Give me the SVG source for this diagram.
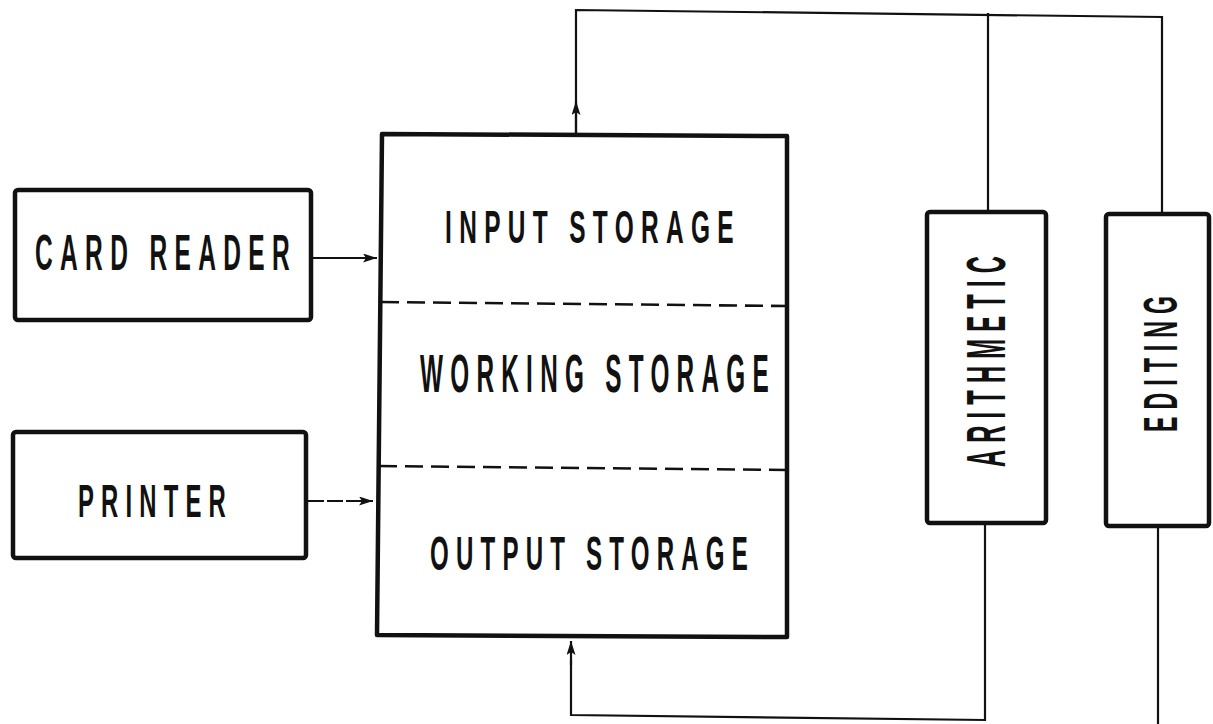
<svg xmlns="http://www.w3.org/2000/svg" width="1213" height="724" viewBox="0 0 1213 724">
<style>
.box{fill:none;stroke:#111;stroke-width:4.5;stroke-linejoin:round}
.line{fill:none;stroke:#111;stroke-width:2.2}
.div{fill:none;stroke:#111;stroke-width:2.6;stroke-dasharray:18 8}
.lbl{font-family:"Liberation Sans",Arial,sans-serif;font-weight:bold;fill:#111;letter-spacing:0.3em}
</style>
<defs>
<marker id="ah" viewBox="0 0 14 9" refX="14" refY="4.5" markerWidth="14" markerHeight="9" markerUnits="userSpaceOnUse" orient="auto">
<path d="M0,0 L14,4.5 L0,9 L3,4.5 Z" fill="#111"/>
</marker>
</defs>
<rect width="1213" height="724" fill="#fff"/>
<g id="connectors">
<line class="line" x1="311" y1="258" x2="377" y2="258" marker-end="url(#ah)"/>
<line class="line" x1="308" y1="501" x2="373" y2="501" stroke-dasharray="16 3" marker-end="url(#ah)"/>
<polyline class="line" points="1162,215 1162,17 576,10 576,135"/>
<line class="line" x1="576" y1="135" x2="576" y2="101" marker-end="url(#ah)"/>
<line class="line" x1="988" y1="13" x2="988" y2="212"/>
<polyline class="line" points="985,523 985,720 571,715 571,660"/>
<line class="line" x1="571" y1="665" x2="571" y2="641" marker-end="url(#ah)"/>
<line class="line" x1="1158" y1="526" x2="1158" y2="724"/>
</g>
<g id="card-reader">
<rect class="box" x="15" y="190" width="296" height="130" rx="3"/>
<text class="lbl" x="35" y="270" font-size="50" textLength="262" lengthAdjust="spacingAndGlyphs">CARD READER</text>
</g>
<g id="printer">
<rect class="box" x="13" y="432" width="293" height="126" rx="3"/>
<text class="lbl" x="78" y="517" font-size="47" textLength="155" lengthAdjust="spacingAndGlyphs">PRINTER</text>
</g>
<g id="storage">
<path class="box" d="M382,134 L787,136 L787,637 L377,635 Z"/>
<line class="div" x1="381" y1="302" x2="787" y2="306"/>
<line class="div" x1="379" y1="466" x2="787" y2="470"/>
<text class="lbl" x="445" y="243" font-size="46" textLength="296" lengthAdjust="spacingAndGlyphs">INPUT STORAGE</text>
<text class="lbl" x="420" y="392" font-size="54" textLength="356" lengthAdjust="spacingAndGlyphs">WORKING STORAGE</text>
<text class="lbl" x="430" y="570" font-size="49" textLength="325" lengthAdjust="spacingAndGlyphs">OUTPUT STORAGE</text>
</g>
<g id="arithmetic">
<rect class="box" x="927" y="212" width="119" height="311" rx="3"/>
<text class="lbl" transform="translate(1005,467) rotate(-90)" font-size="55" textLength="218" lengthAdjust="spacingAndGlyphs">ARITHMETIC</text>
</g>
<g id="editing">
<rect class="box" x="1106" y="214" width="103" height="312" rx="3"/>
<text class="lbl" transform="translate(1177,432) rotate(-90)" font-size="49" textLength="143" lengthAdjust="spacingAndGlyphs">EDITING</text>
</g>
</svg>
